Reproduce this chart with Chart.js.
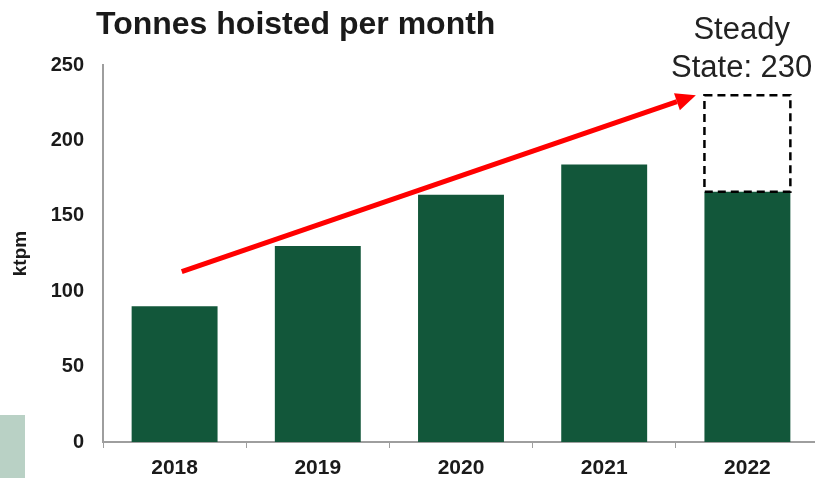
<!DOCTYPE html>
<html>
<head>
<meta charset="utf-8">
<script src="https://cdn.jsdelivr.net/npm/chart.js@4"></script>
<style>
  html, body { margin: 0; padding: 0; background: #fff; overflow: hidden; }
  #wrap { position: relative; width: 822px; height: 478px; }
  #ts { display: block; }
  #tab { position: absolute; left: 0; top: 415px; width: 25px; height: 63px; background: #b9d1c5; }
</style>
</head>
<body>
<div id="wrap">
  <canvas id="ts" width="822" height="478"></canvas>
  <div id="tab"></div>
</div>
<script>
// data
var years = ["2018", "2019", "2020", "2021", "2022"];
var tonnes = [90, 130, 164, 184, 166];
var steadyState = 230;
var steadyLabel = ["Steady", "State: 230"];
var chartTitle = "Tonnes hoisted per month";
var yTicks = [0, 50, 100, 150, 200, 250];

// arrow drawn from (category index, value) to (category index, value)
var arrowFrom = [0.05, 113];
var arrowTo = [3.64, 230];

var extras = {
  id: "extras",
  afterDatasetsDraw: function(chart) {
    var ctx = chart.ctx;
    var xs = chart.scales.x, ys = chart.scales.y;

    // dashed steady-state box on top of the last bar
    var bar = chart.getDatasetMeta(0).data[years.length - 1];
    var half = bar.width / 2;
    var top = ys.getPixelForValue(steadyState);
    var bottom = ys.getPixelForValue(tonnes[tonnes.length - 1]);
    ctx.save();
    ctx.strokeStyle = "#000";
    ctx.lineWidth = 2.5;
    ctx.setLineDash([8, 5]);
    ctx.strokeRect(bar.x - half, top, half * 2, bottom - top);
    ctx.restore();

    // red trend arrow
    var x1 = xs.getPixelForValue(arrowFrom[0]), y1 = ys.getPixelForValue(arrowFrom[1]);
    var x2 = xs.getPixelForValue(arrowTo[0]), y2 = ys.getPixelForValue(arrowTo[1]);
    var ang = Math.atan2(y2 - y1, x2 - x1);
    var headLen = 20, headW = 9;
    var bx = x2 - headLen * Math.cos(ang), by = y2 - headLen * Math.sin(ang);
    ctx.save();
    ctx.strokeStyle = "#ff0000";
    ctx.fillStyle = "#ff0000";
    ctx.lineWidth = 5;
    ctx.beginPath();
    ctx.moveTo(x1, y1);
    ctx.lineTo(bx, by);
    ctx.stroke();
    ctx.beginPath();
    ctx.moveTo(x2, y2);
    ctx.lineTo(bx + headW * Math.sin(ang), by - headW * Math.cos(ang));
    ctx.lineTo(bx - headW * Math.sin(ang), by + headW * Math.cos(ang));
    ctx.closePath();
    ctx.fill();
    ctx.restore();

    // title + steady state label
    ctx.save();
    ctx.fillStyle = "#1a1a1a";
    ctx.font = "bold 32px 'Liberation Sans', Arial, sans-serif";
    ctx.textAlign = "left";
    ctx.textBaseline = "alphabetic";
    ctx.fillText(chartTitle, 96, 34);
    ctx.fillStyle = "#222";
    ctx.font = "31px 'Liberation Sans', Arial, sans-serif";
    ctx.textAlign = "center";
    var cx = xs.getPixelForValue(3.96);
    ctx.fillText(steadyLabel[0], cx, 39);
    ctx.fillText(steadyLabel[1], cx, 77);
    ctx.restore();
  }
};

var ctx = document.getElementById("ts");
var chart = new Chart(ctx, {
  type: "bar",
  data: {
    labels: years,
    datasets: [{
      label: "ktpm",
      data: tonnes,
      backgroundColor: "#12573a",
      barPercentage: 0.6,
      categoryPercentage: 1.0
    }]
  },
  options: {
    responsive: false,
    animation: false,
    devicePixelRatio: 1,
    layout: { padding: { top: 65, right: 3, left: 0, bottom: 0 } },
    plugins: { legend: { display: false }, title: { display: false }, tooltip: { enabled: false } },
    scales: {
      x: {
        grid: { drawOnChartArea: false, drawTicks: true, tickLength: 6, color: "#9e9e9e", offset: true },
        border: { display: true, color: "#9e9e9e", width: 2 },
        ticks: { color: "#1a1a1a", maxRotation: 0, font: { family: "'Liberation Sans', Arial", size: 21, weight: "bold" }, padding: 8 },
        afterFit: function(s) { s.height = 36; }
      },
      y: {
        min: 0, max: 250,
        afterBuildTicks: function(s) { s.ticks = yTicks.map(function(v) { return { value: v }; }); },
        grid: { display: false },
        border: { display: true, color: "#9e9e9e", width: 2 },
        ticks: { color: "#1a1a1a", autoSkip: false, font: { family: "'Liberation Sans', Arial", size: 20, weight: "bold" }, padding: 11 },
        title: { display: true, text: "ktpm", color: "#1a1a1a", font: { family: "'Liberation Sans', Arial", size: 19, weight: "bold" }, padding: { top: 9, bottom: 0 } },
        afterFit: function(s) { s.width = 103; }
      }
    }
  },
  plugins: [extras]
});
</script>
</body>
</html>
